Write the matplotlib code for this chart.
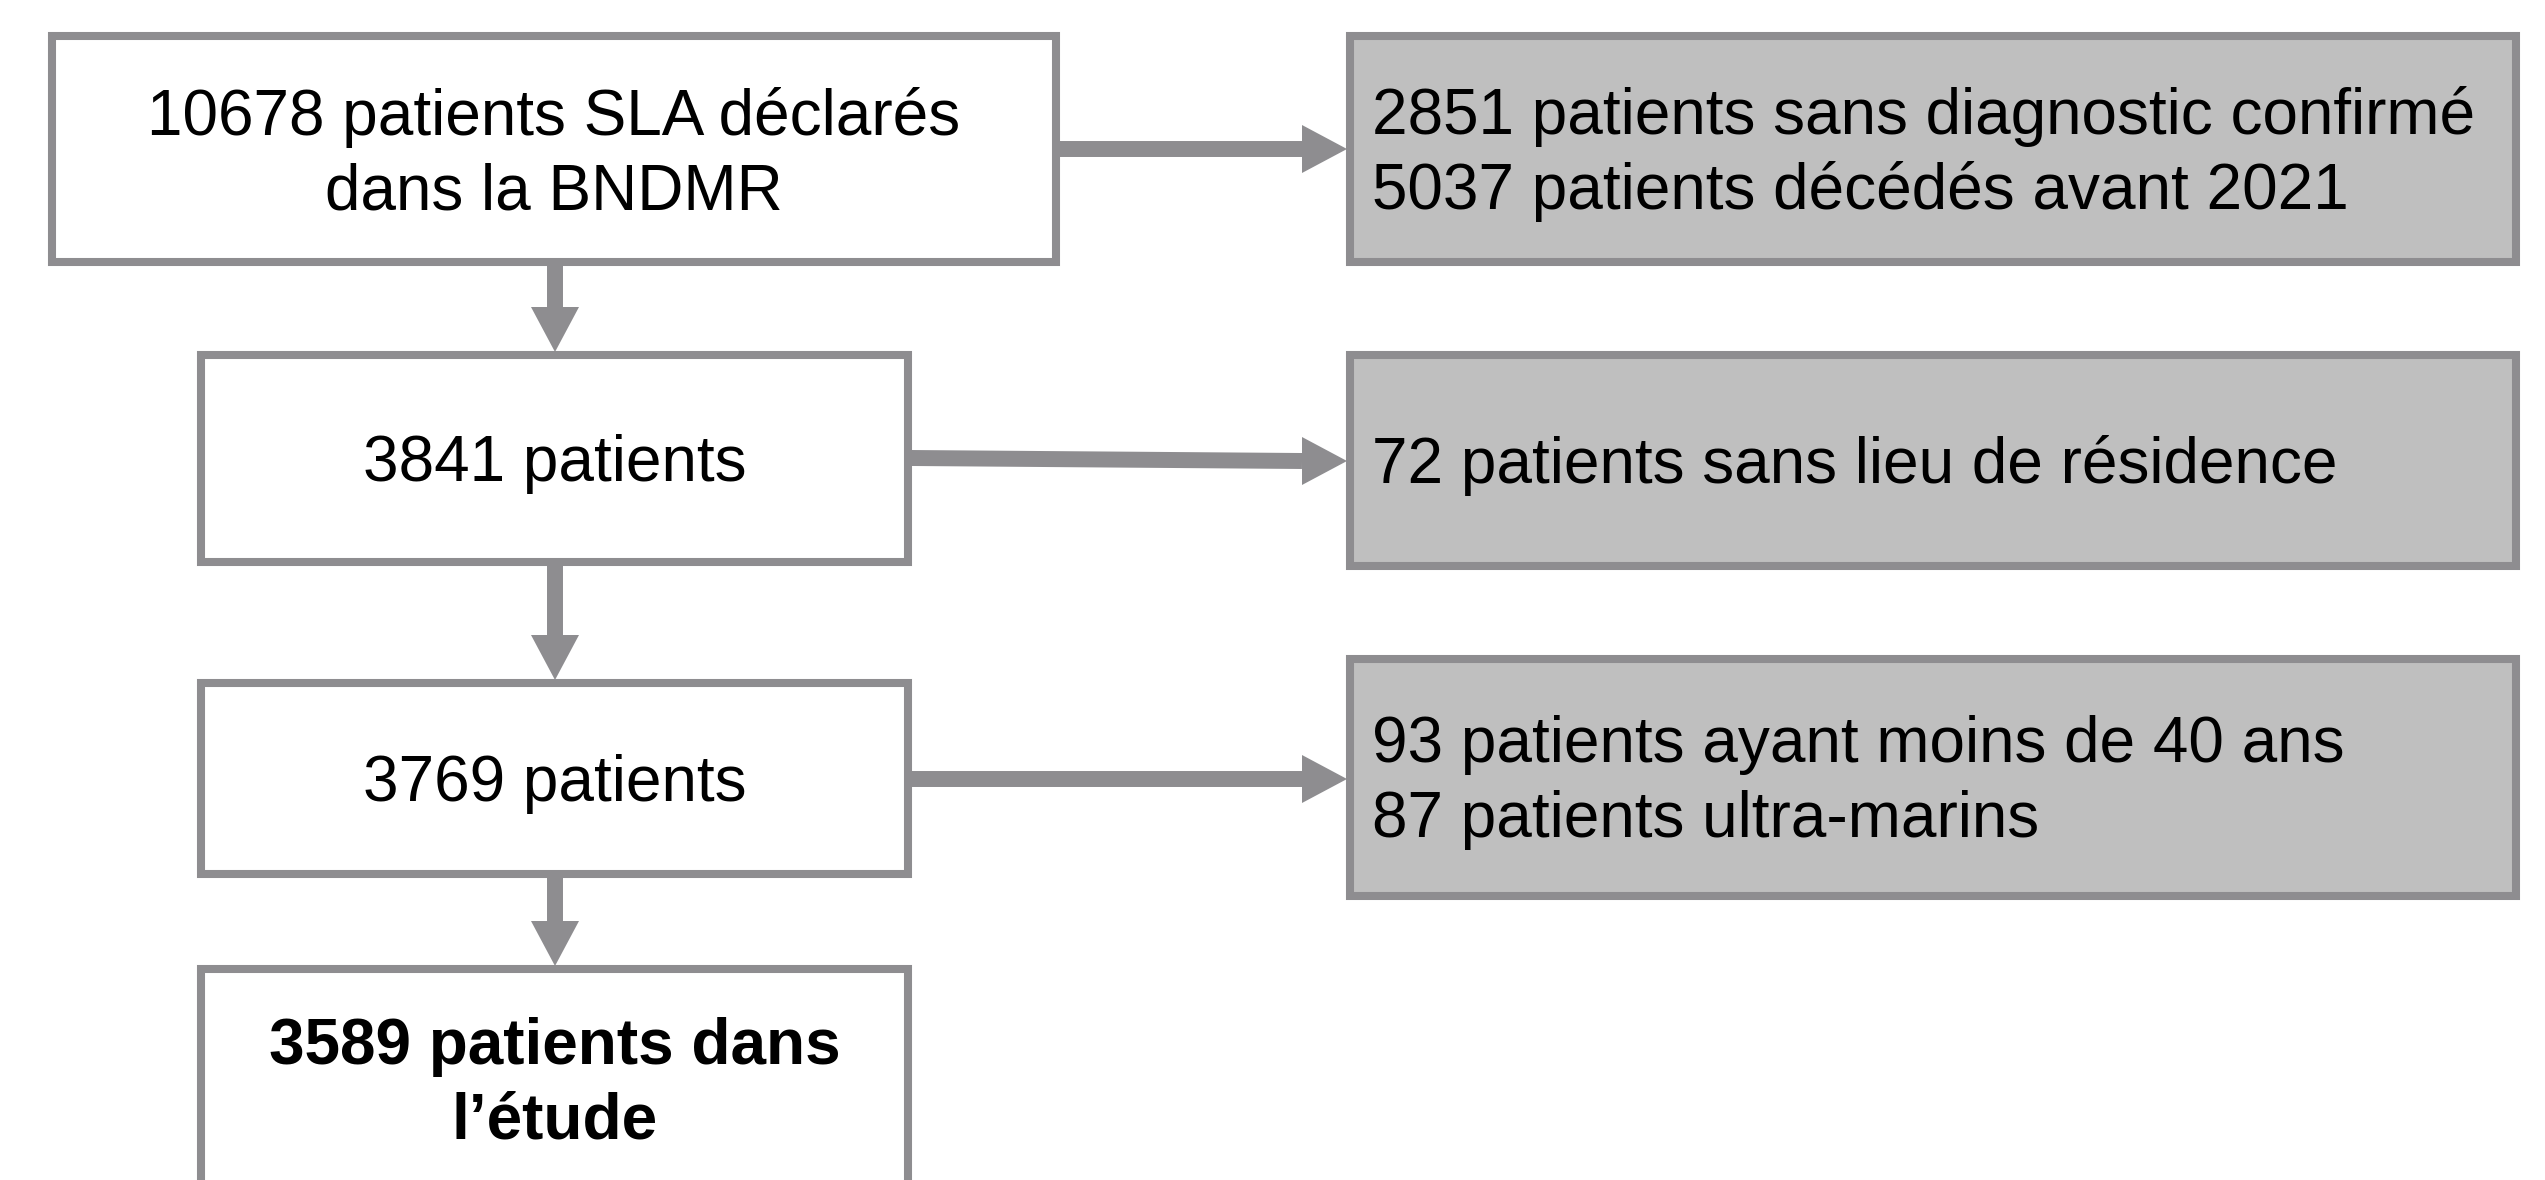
import matplotlib
matplotlib.use("Agg")
import matplotlib.pyplot as plt
from matplotlib.patches import Rectangle, Polygon

plt.rcParams["font.family"] = ["Liberation Sans", "DejaVu Sans"]

# flow chart content
main_steps = ["10678 patients SLA déclarés\ndans la BNDMR",
              "3841 patients",
              "3769 patients",
              "3589 patients dans\nl’étude"]
exclusions = ["2851 patients sans diagnostic confirmé\n5037 patients décédés avant 2021",
              "72 patients sans lieu de résidence",
              "93 patients ayant moins de 40 ans\n87 patients ultra-marins"]

EDGE = "#8e8d90"
GREY = "#bfbfbf"
FS = 46
LS = 1.3

# layout in pixel units (x0, y0, x1, y1), y downward
main_boxes = [(52, 36, 1056, 262), (201, 355, 908, 562),
              (201, 683, 908, 874), (201, 969, 908, 1200)]
excl_boxes = [(1350, 36, 2516, 262), (1350, 355, 2516, 566),
              (1350, 659, 2516, 896)]

fig = plt.figure(figsize=(25.45, 11.8), dpi=100)
ax = fig.add_axes([0, 0, 1, 1])
ax.set_xlim(0, 2545)
ax.set_ylim(1180, 0)
ax.axis("off")


def box(b, fill):
    x0, y0, x1, y1 = b
    ax.add_patch(Rectangle((x0, y0), x1 - x0, y1 - y0, facecolor=fill,
                           edgecolor=EDGE, lw=5.8, zorder=2))


def arrow(x0, y0, x1, y1):
    # shaft + triangular head, head ends at (x1, y1)
    hl, hw = 45, 24
    if abs(x1 - x0) > abs(y1 - y0):
        ax.plot([x0, x1 - hl], [y0, y1], color=EDGE, lw=11.5,
                solid_capstyle="butt", zorder=1)
        head = [(x1 - hl, y1 - hw), (x1, y1), (x1 - hl, y1 + hw)]
    else:
        ax.plot([x0, x1], [y0, y1 - hl], color=EDGE, lw=11.5,
                solid_capstyle="butt", zorder=1)
        head = [(x1 - hw, y1 - hl), (x1, y1), (x1 + hw, y1 - hl)]
    ax.add_patch(Polygon(head, closed=True, facecolor=EDGE, edgecolor="none",
                         zorder=3))


for i, (b, t) in enumerate(zip(main_boxes, main_steps)):
    box(b, "white")
    x0, y0, x1, y1 = b
    cy = (y0 + y1) / 2 + 6 if i < 3 else 1084
    ax.text((x0 + x1) / 2, cy, t, ha="center", va="center", fontsize=FS,
            linespacing=LS, weight="bold" if i == 3 else "normal", zorder=4)

for b, t in zip(excl_boxes, exclusions):
    box(b, GREY)
    x0, y0, x1, y1 = b
    ax.text(x0 + 22, (y0 + y1) / 2 + 5, t, ha="left", va="center",
            fontsize=FS, linespacing=LS, zorder=4)

# down arrows between main steps
xc = 555
for a, b in zip(main_boxes[:-1], main_boxes[1:]):
    arrow(xc, a[3] + 4, xc, b[1] - 3)

# side arrows to exclusion boxes
side_y = [(149, 149), (458, 461), (779, 779)]
for a, b, (ya, yb) in zip(main_boxes, excl_boxes, side_y):
    arrow(a[2] + 3, ya, b[0] - 3, yb)

fig.savefig("out.png", dpi=100)
